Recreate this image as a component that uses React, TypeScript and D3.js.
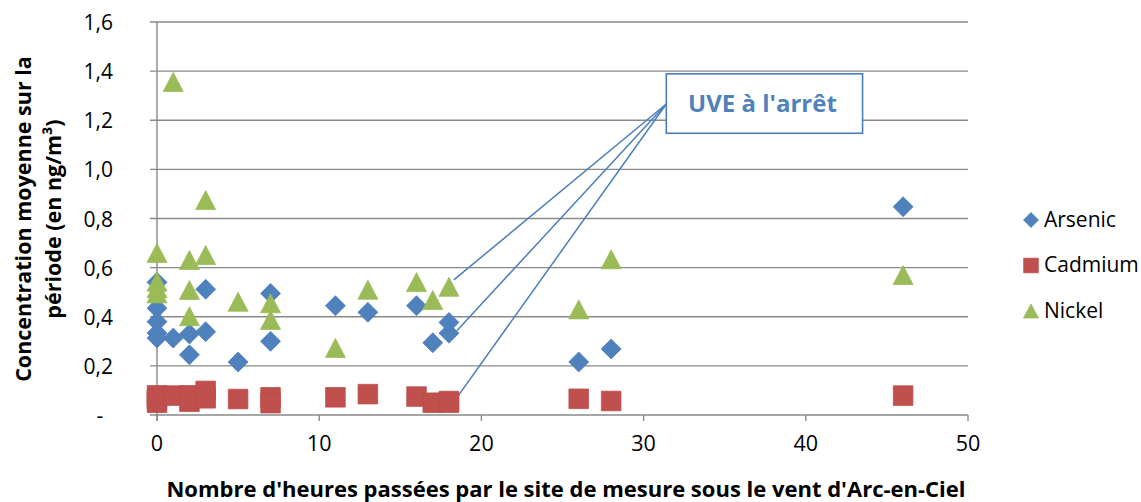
import React from "react";
import * as d3 from "d3";

// ---- data ----
const arsenicX = [0, 0, 0, 0, 0, 1, 2, 2, 3, 3, 5, 7, 7, 11, 13, 16, 17, 18, 18, 26, 28, 46];
const arsenicY = [0.54, 0.435, 0.38, 0.334, 0.313, 0.313, 0.33, 0.245, 0.512, 0.339, 0.216, 0.495, 0.3, 0.445, 0.418, 0.445, 0.294, 0.377, 0.333, 0.216, 0.269, 0.848];

const cadmiumX = [0, 0, 0, 1, 2, 2, 3, 3, 5, 7, 7, 11, 13, 16, 17, 18, 18, 26, 28, 46];
const cadmiumY = [0.08, 0.065, 0.05, 0.079, 0.08, 0.054, 0.098, 0.068, 0.065, 0.072, 0.048, 0.072, 0.085, 0.075, 0.05, 0.057, 0.05, 0.066, 0.057, 0.079];

const nickelX = [0, 0, 0, 0, 1, 2, 2, 2, 3, 3, 5, 7, 7, 11, 13, 16, 17, 18, 26, 28, 46];
const nickelY = [0.66, 0.543, 0.516, 0.495, 1.356, 0.631, 0.509, 0.402, 0.875, 0.651, 0.461, 0.455, 0.387, 0.273, 0.51, 0.541, 0.468, 0.522, 0.43, 0.634, 0.57];

const xTicks = [0, 10, 20, 30, 40, 50];
const xTickLabels = ["0", "10", "20", "30", "40", "50"];
const yTicks = [0, 0.2, 0.4, 0.6, 0.8, 1.0, 1.2, 1.4, 1.6];
const yTickLabels = ["-", "0,2", "0,4", "0,6", "0,8", "1,0", "1,2", "1,4", "1,6"];

const seriesNames = ["Arsenic", "Cadmium", "Nickel"];
const xTitle = "Nombre d'heures passées par le site de mesure sous le vent d'Arc-en-Ciel";
const yTitleLines = ["Concentration moyenne sur la", "période (en ng/m³)"];
const calloutText = "UVE à l'arrêt";
// callout anchor and the points it designates (data units)
const calloutAnchor = { x: 31.4, y: 1.266 };
const calloutBox = { x0: 31.4, x1: 43.5, y0: 1.147, y1: 1.389 };
const calloutTargets = [
  { x: 18.3, y: 0.55 },
  { x: 18.5, y: 0.344 },
  { x: 18.5, y: 0.072 },
];

// ---- styles ----
const FONT = "'Open Sans', 'Liberation Sans', sans-serif";
const BLUE = "#4F81BD";
const BLUE_D = "#4A7EBB";
const RED = "#C0504D";
const RED_D = "#BE4B48";
const GREEN = "#9BBB59";
const GREEN_D = "#98B954";
const GRID = "#898989";

const diamond = (r: number) => `M0,${-r}L${r},0L0,${r}L${-r},0Z`;
const square = (r: number) => `M${-r},${-r}H${r}V${r}H${-r}Z`;
const triangle = (w: number, h: number) => `M0,${-h / 2}L${w / 2},${h / 2}L${-w / 2},${h / 2}Z`;

export default function App() {
  const W = 1141;
  const H = 502;
  const x = d3.scaleLinear().domain([0, 50]).range([157, 968]);
  const y = d3.scaleLinear().domain([0, 1.6]).range([415, 22]);

  const ars = arsenicX.map((v, i) => [x(v), y(arsenicY[i])]);
  const cad = cadmiumX.map((v, i) => [x(v), y(cadmiumY[i])]);
  const nic = nickelX.map((v, i) => [x(v), y(nickelY[i])]);

  const ax = x(calloutAnchor.x);
  const ay = y(calloutAnchor.y);

  return (
    <svg
      width={W}
      height={H}
      style={{ position: "absolute", left: 0, top: 0, background: "#fff" }}
      fontFamily={FONT}
    >
      <rect x={0} y={0} width={W} height={H} fill="#fff" />
      {/* gridlines */}
      {yTicks.map((t, i) =>
        t === 0 ? null : (
          <line key={"g" + i} x1={150} x2={x(50)} y1={y(t)} y2={y(t)} stroke={GRID} strokeWidth={1.4} />
        )
      )}
      {/* axes */}
      <line x1={x(0)} x2={x(0)} y1={y(1.6)} y2={y(0) + 6} stroke={GRID} strokeWidth={1.4} />
      <line x1={150} x2={x(50)} y1={y(0)} y2={y(0)} stroke={GRID} strokeWidth={1.4} />
      {xTicks.map((t, i) => (
        <line key={"xt" + i} x1={x(t)} x2={x(t)} y1={y(0)} y2={y(0) + 6} stroke={GRID} strokeWidth={1.4} />
      ))}
      {/* tick labels */}
      {yTicks.map((t, i) => (
        <text
          key={"yl" + i}
          x={yTickLabels[i] === "-" ? 100 : 113}
          y={y(t) + 8}
          textAnchor={yTickLabels[i] === "-" ? "middle" : "end"}
          fontSize={21}
          fill="#000"
        >
          {yTickLabels[i]}
        </text>
      ))}
      {xTicks.map((t, i) => (
        <text key={"xl" + i} x={x(t)} y={451} textAnchor="middle" fontSize={21.5} fill="#000">
          {xTickLabels[i]}
        </text>
      ))}
      {/* axis titles */}
      <text x={566} y={497} textAnchor="middle" fontSize={22} fontWeight="bold" fill="#000">
        {xTitle}
      </text>
      {yTitleLines.map((l, i) => (
        <text
          key={"yt" + i}
          transform={`translate(${31 + i * 30},219) rotate(-90)`}
          textAnchor="middle"
          fontSize={21.5}
          fontWeight="bold"
          fill="#000"
        >
          {l}
        </text>
      ))}
      {/* callout leader lines */}
      {calloutTargets.map((p, i) => (
        <line key={"cl" + i} x1={ax} y1={ay} x2={x(p.x)} y2={y(p.y)} stroke={BLUE_D} strokeWidth={1.5} />
      ))}
      {/* series */}
      {ars.map(([px, py], i) => (
        <path key={"a" + i} d={diamond(10)} transform={`translate(${px},${py})`} fill={BLUE} stroke={BLUE_D} strokeWidth={0.75} />
      ))}
      {cad.map(([px, py], i) => (
        <path key={"c" + i} d={square(9.8)} transform={`translate(${px},${py})`} fill={RED} stroke={RED_D} strokeWidth={0.75} />
      ))}
      {nic.map(([px, py], i) => (
        <path key={"n" + i} d={triangle(20, 19)} transform={`translate(${px},${py})`} fill={GREEN} stroke={GREEN_D} strokeWidth={0.75} />
      ))}
      {/* callout box */}
      <rect
        x={x(calloutBox.x0)}
        y={y(calloutBox.y1)}
        width={x(calloutBox.x1) - x(calloutBox.x0)}
        height={y(calloutBox.y0) - y(calloutBox.y1)}
        fill="#fff"
        stroke={BLUE_D}
        strokeWidth={1.6}
      />
      <text
        x={(x(calloutBox.x0) + x(calloutBox.x1)) / 2 - 2}
        y={112}
        textAnchor="middle"
        fontSize={24}
        fontWeight="bold"
        fill={BLUE}
      >
        {calloutText}
      </text>
      {/* legend */}
      <g>
        <path d={diamond(7.5)} transform="translate(1031,220)" fill={BLUE} stroke={BLUE_D} strokeWidth={0.75} />
        <text x={1044} y={227} fontSize={21} fill="#000">{seriesNames[0]}</text>
        <path d={square(7.3)} transform="translate(1031,265.5)" fill={RED} stroke={RED_D} strokeWidth={0.75} />
        <text x={1044} y={272} fontSize={21} fill="#000">{seriesNames[1]}</text>
        <path d={triangle(15, 14)} transform="translate(1031,311)" fill={GREEN} stroke={GREEN_D} strokeWidth={0.75} />
        <text x={1044} y={318} fontSize={21} fill="#000">{seriesNames[2]}</text>
      </g>
    </svg>
  );
}
